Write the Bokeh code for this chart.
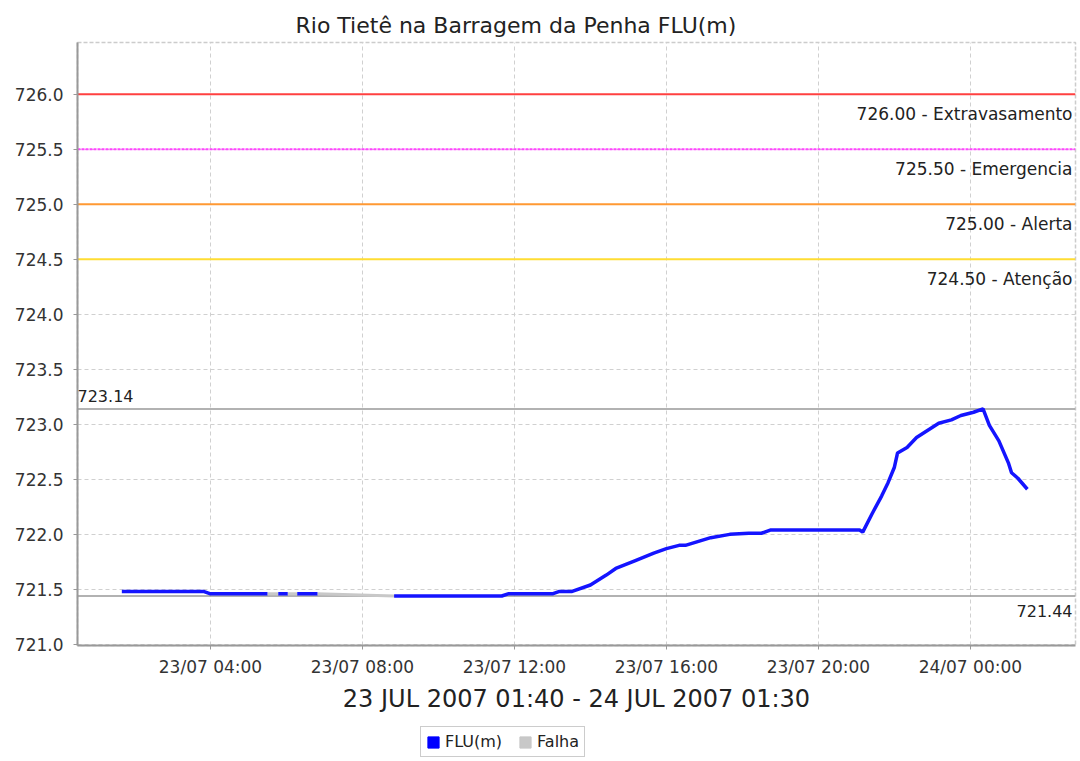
import numpy as np
import pandas as pd
from bokeh.plotting import figure
from bokeh.layouts import column
from bokeh.models import (Range1d, FixedTicker, DatetimeTickFormatter, NumeralTickFormatter,
                          Span, Label, Legend, LegendItem, ColumnDataSource, Title)
from bokeh.embed import file_html
from bokeh.resources import INLINE

# ---------------- data ----------------
title_text = "Rio Tietê na Barragem da Penha FLU(m)"
x_axis_label = "23 JUL 2007 01:40 - 24 JUL 2007 01:30"

flu_times = [
    "2007-07-23 01:40", "2007-07-23 03:50", "2007-07-23 04:00", "2007-07-23 05:30",
    "2007-07-23 05:40",
    "2007-07-23 05:47", "2007-07-23 06:02",
    "2007-07-23 06:10",
    "2007-07-23 06:17", "2007-07-23 06:49",
    "2007-07-23 07:00",
    "2007-07-23 08:50", "2007-07-23 11:40", "2007-07-23 11:50", "2007-07-23 13:00",
    "2007-07-23 13:10", "2007-07-23 13:30", "2007-07-23 14:00", "2007-07-23 14:25",
    "2007-07-23 14:40", "2007-07-23 15:10", "2007-07-23 15:40", "2007-07-23 16:00",
    "2007-07-23 16:20", "2007-07-23 16:30", "2007-07-23 17:10", "2007-07-23 17:40",
    "2007-07-23 18:10", "2007-07-23 18:30", "2007-07-23 18:45", "2007-07-23 21:05",
    "2007-07-23 21:10",
    "2007-07-23 21:25", "2007-07-23 21:40", "2007-07-23 21:50", "2007-07-23 22:00",
    "2007-07-23 22:05", "2007-07-23 22:20", "2007-07-23 22:35", "2007-07-23 23:10",
    "2007-07-23 23:30", "2007-07-23 23:45", "2007-07-24 00:05", "2007-07-24 00:20",
    "2007-07-24 00:30", "2007-07-24 00:45", "2007-07-24 01:00", "2007-07-24 01:05",
    "2007-07-24 01:15", "2007-07-24 01:30",
]
flu_values = [
    721.48, 721.48, 721.46, 721.46,
    np.nan,
    721.46, 721.46,
    np.nan,
    721.46, 721.46,
    np.nan,
    721.44, 721.44, 721.46, 721.46,
    721.48, 721.48, 721.54, 721.63,
    721.69, 721.76, 721.83, 721.87,
    721.90, 721.90, 721.97, 722.00,
    722.01, 722.01, 722.04, 722.04,
    722.02,
    722.19, 722.35, 722.47, 722.61,
    722.74, 722.79, 722.88, 723.01,
    723.04, 723.08, 723.11, 723.14,
    722.99, 722.85, 722.65, 722.56,
    722.51, 722.41,
]

falha_times = [
    "2007-07-23 05:30", "2007-07-23 05:47", "2007-07-23 05:50",
    "2007-07-23 06:02", "2007-07-23 06:17", "2007-07-23 06:20",
    "2007-07-23 06:49", "2007-07-23 08:50",
]
falha_values = [721.46, 721.46, np.nan, 721.46, 721.46, np.nan, 721.46, 721.44]

x_tick_times = ["2007-07-23 04:00", "2007-07-23 08:00", "2007-07-23 12:00",
                "2007-07-23 16:00", "2007-07-23 20:00", "2007-07-24 00:00"]
y_ticks = [721.0, 721.5, 722.0, 722.5, 723.0, 723.5, 724.0, 724.5, 725.0, 725.5, 726.0]

threshold_values = [726.0, 725.5, 725.0, 724.5]
threshold_labels = ["726.00 - Extravasamento", "725.50 - Emergencia",
                    "725.00 - Alerta", "724.50 - Atenção"]
threshold_colors = ["#ff4040", "#ff44ff", "#ff9933", "#ffdd33"]
threshold_dash = ["solid", "3 1", "solid", "solid"]

max_value = 723.14
min_value = 721.44
max_label = "723.14"
min_label = "721.44"

legend_labels = ["FLU(m)", "Falha"]
legend_colors = ["#0000ff", "#c8c8c8"]

x_start = "2007-07-23 00:30"
x_end = "2007-07-24 02:46"
y_start = 720.99
y_end = 726.47

# ---------------- main figure ----------------
FONT = "DejaVu Sans"
FRAME_W = 998

p = figure(output_backend="svg", toolbar_location=None,
           width=1080, height=725,
           min_border_left=77, min_border_right=5, min_border_top=42, min_border_bottom=80,
           x_axis_type="datetime",
           x_range=Range1d(pd.Timestamp(x_start), pd.Timestamp(x_end)),
           y_range=Range1d(y_start, y_end))
p.background_fill_color = "white"
p.border_fill_color = "white"
p.outline_line_color = "#cccccc"
p.outline_line_dash = "4 2"
p.outline_line_width = 1.5

p.title = Title(text=title_text, align="left", offset=218,
                text_font=FONT, text_font_size="22px", text_font_style="normal",
                text_color="#222222", standoff=10)

x_tick_ms = [pd.Timestamp(t).value // 10**6 for t in x_tick_times]
p.xaxis.ticker = FixedTicker(ticks=x_tick_ms)
p.xaxis.formatter = DatetimeTickFormatter(hours="%d/%m %H:%M", days="%d/%m %H:%M",
                                          minutes="%d/%m %H:%M", hourmin="%d/%m %H:%M")
p.xaxis.axis_label = x_axis_label
p.xaxis.axis_label_text_font = FONT
p.xaxis.axis_label_text_font_size = "24px"
p.xaxis.axis_label_text_font_style = "normal"
p.xaxis.axis_label_text_color = "#222222"
p.xaxis.axis_label_standoff = 5
p.xaxis.major_label_text_font = FONT
p.xaxis.major_label_text_font_size = "17px"
p.xaxis.major_label_text_color = "#333333"
p.xaxis.major_label_standoff = 7

p.yaxis.ticker = FixedTicker(ticks=y_ticks)
p.yaxis.formatter = NumeralTickFormatter(format="0.0")
p.yaxis.major_label_text_font = FONT
p.yaxis.major_label_text_font_size = "17px"
p.yaxis.major_label_text_color = "#333333"
p.yaxis.major_label_standoff = 10

for ax in (p.xaxis, p.yaxis):
    ax.axis_line_color = "#999999"
    ax.axis_line_width = 2
    ax.major_tick_line_color = "#999999"
    ax.major_tick_out = 4
    ax.major_tick_in = 0
    ax.minor_tick_line_color = None

p.xgrid.ticker = FixedTicker(ticks=x_tick_ms)
p.ygrid.ticker = FixedTicker(ticks=y_ticks)
for g in (p.xgrid, p.ygrid):
    g.grid_line_color = "#d0d0d0"
    g.grid_line_dash = "4 3"
    g.grid_line_width = 1

for val, txt, col, dash in zip(threshold_values, threshold_labels, threshold_colors, threshold_dash):
    p.add_layout(Span(location=val, dimension="width", line_color=col, line_width=2,
                      line_dash=dash, level="underlay"))
    p.add_layout(Label(x=FRAME_W - 3, y=val, x_units="screen", y_units="data",
                       text=txt, text_align="right", text_baseline="top", y_offset=-10,
                       text_font=FONT, text_font_size="17px", text_color="#222222"))

for val in (max_value, min_value):
    p.add_layout(Span(location=val, dimension="width", line_color="#999999", line_width=1.5,
                      level="underlay"))
p.add_layout(Label(x=0, y=max_value, x_units="screen", y_units="data", text=max_label,
                   text_align="left", text_baseline="bottom", y_offset=7,
                   text_font=FONT, text_font_size="16px", text_color="#222222"))
p.add_layout(Label(x=FRAME_W - 3, y=min_value, x_units="screen", y_units="data", text=min_label,
                   text_align="right", text_baseline="top", y_offset=-9,
                   text_font=FONT, text_font_size="16px", text_color="#222222"))

flu_src = ColumnDataSource(dict(t=pd.to_datetime(flu_times), v=flu_values))
falha_src = ColumnDataSource(dict(t=pd.to_datetime(falha_times), v=falha_values))
p.line("t", "v", source=falha_src, line_color=legend_colors[1], line_width=3)
p.line("t", "v", source=flu_src, line_color="#1414ff", line_width=3.5)

# ---------------- legend strip (frame aligned with main frame) ----------------
q = figure(output_backend="svg", toolbar_location=None, width=1080, height=36,
           min_border=0, min_border_left=0, min_border_right=0,
           min_border_top=0, min_border_bottom=0,
           x_axis_location=None, y_axis_location=None,
           x_range=Range1d(0, 1), y_range=Range1d(0, 1))
q.grid.visible = False
q.outline_line_color = None
q.background_fill_color = "white"
q.border_fill_color = "white"

keys = []
for col in legend_colors:
    # key glyph placed off-range so only the legend swatch is visible
    keys.append(q.quad(left=[-5.0], right=[-4.0], bottom=[-5.0], top=[-4.0],
                       fill_color=col, line_color=col))

legend = Legend(items=[LegendItem(label=lab, renderers=[r]) for lab, r in zip(legend_labels, keys)],
                orientation="horizontal", location=(343, 4),
                label_text_font=FONT, label_text_font_size="16px", label_text_color="#222222",
                glyph_width=14, glyph_height=14, label_standoff=5, spacing=16,
                padding=5, margin=0, border_line_color="#999999", border_line_width=1.5,
                background_fill_color="white", label_height=16)
q.add_layout(legend)

layout = column(p, q, spacing=0)
open("out.html", "w").write(file_html(layout, INLINE))
